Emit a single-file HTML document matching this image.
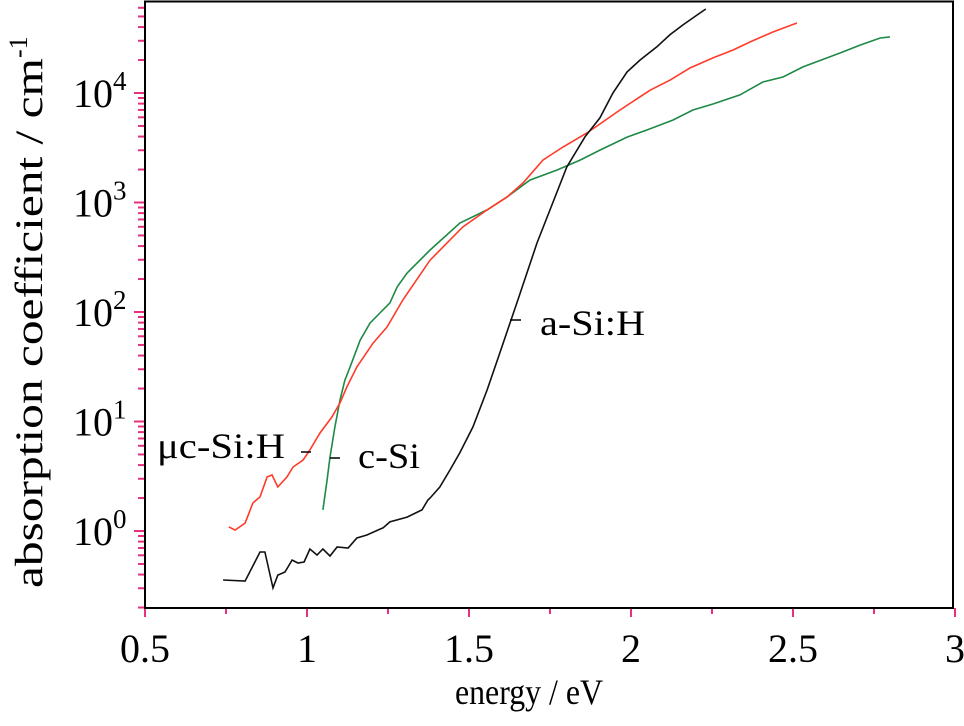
<!DOCTYPE html>
<html><head><meta charset="utf-8"><style>
html,body{margin:0;padding:0;background:#fff;}
svg{display:block;}
text{font-family:"Liberation Serif","Times New Roman","Noto Serif CJK SC",serif;}
</style></head><body>
<svg id="chart" width="964" height="726" viewBox="0 0 964 726" xmlns="http://www.w3.org/2000/svg">
<g id="ticks"></g>
<g id="series"></g>
<rect x="145" y="1.5" width="808" height="606.5" fill="none" stroke="#000" stroke-width="2"/>
<g id="labels" font-size="40" fill="#000"></g>
<text x="455" y="704" font-size="36" textLength="148" lengthAdjust="spacingAndGlyphs">energy / eV</text>
<text transform="translate(42,588) rotate(-90)" font-size="39"><tspan textLength="530" lengthAdjust="spacingAndGlyphs">absorption coefficient / cm</tspan><tspan dy="-15" font-size="26">-1</tspan></text>
<text x="540" y="335" font-size="36" textLength="105" lengthAdjust="spacingAndGlyphs">a-Si:H</text>
<line x1="510" y1="320" x2="521" y2="320" stroke="#000" stroke-width="1.5"/>
<text x="157" y="458" font-size="36" textLength="128" lengthAdjust="spacingAndGlyphs">μc-Si:H</text>
<line x1="301" y1="452" x2="311" y2="452" stroke="#000" stroke-width="1.5"/>
<text x="358" y="468" font-size="36" textLength="62" lengthAdjust="spacingAndGlyphs">c-Si</text>
<line x1="330" y1="458" x2="340" y2="458" stroke="#000" stroke-width="1.5"/>
</svg>
<script>
const xTicks = [0.5, 1, 1.5, 2, 2.5, 3];
const xTickLabels = ["0.5", "1", "1.5", "2", "2.5", "3"];
const yDecades = [0, 1, 2, 3, 4];
const aSiE = [0.741,0.809,0.855,0.870,0.895,0.910,0.932,0.954,0.972,0.991,1.009,1.031,1.049,1.071,1.093,1.127,1.154,1.185,1.235,1.256,1.309,1.355,1.373,1.380,1.410,1.441,1.472,1.512,1.556,1.596,1.651,1.710,1.756,1.802,1.858,1.904,1.944,1.988,2.028,2.080,2.120,2.160,2.204,2.231];
const aSiA = [0.357,0.349,0.643,0.643,0.302,0.396,0.422,0.543,0.510,0.521,0.685,0.604,0.685,0.591,0.714,0.699,0.863,0.919,1.07,1.21,1.34,1.56,1.92,2.0,2.52,3.6,5.2,8.9,19.4,43,129,427,948,2110,3980,5920,10000,15600,20000,26400,34000,41800,51600,58500];
const ucSiE = [0.759,0.778,0.809,0.833,0.855,0.877,0.892,0.910,0.938,0.957,0.988,1.009,1.040,1.077,1.102,1.123,1.154,1.204,1.247,1.296,1.380,1.481,1.556,1.617,1.667,1.728,1.790,1.864,1.966,2.059,2.120,2.182,2.253,2.315,2.367,2.438,2.512];
const ucSiA = [1.09,1.02,1.18,1.80,2.05,3.11,3.25,2.52,3.11,3.84,4.45,5.5,7.85,11.0,14.8,20.7,31.5,52,73,129,298,597,855,1120,1510,2440,3210,4310,7000,10600,13100,16900,20900,24700,29200,36100,43600];
const cSiE = [1.049,1.062,1.071,1.086,1.102,1.117,1.133,1.164,1.194,1.225,1.256,1.278,1.309,1.380,1.472,1.556,1.617,1.688,1.772,1.843,1.904,1.988,2.049,2.130,2.191,2.253,2.336,2.407,2.469,2.531,2.645,2.707,2.769,2.799];
const cSiA = [1.56,2.92,4.74,8.9,15.7,23.9,31.5,55,79,98,121,169,227,368,650,855,1120,1600,1980,2440,3010,3960,4590,5670,7000,7940,9600,12600,14000,17300,23200,27400,31800,32500];

const NS = "http://www.w3.org/2000/svg";
function xs(e){ return 145 + (e - 0.5) * 324; }
function ys(a){ return 531 - Math.log10(a) * 109.5; }
const tg = document.getElementById('ticks');
const lg = document.getElementById('labels');
const sg = document.getElementById('series');
const pink = "#e8307f";
function line(g, x1, y1, x2, y2, c, w){
  const l = document.createElementNS(NS, 'line');
  l.setAttribute('x1', x1); l.setAttribute('y1', y1); l.setAttribute('x2', x2); l.setAttribute('y2', y2);
  l.setAttribute('stroke', c); l.setAttribute('stroke-width', w);
  g.appendChild(l); return l;
}
xTicks.forEach((v, i) => {
  const l = line(tg, xs(v), 608, xs(v), 617, pink, 2);
  
  
  if (i < xTicks.length - 1) {
    const m = line(tg, xs(v + 0.25), 608, xs(v + 0.25), 614, pink, 2);
    
    
  }
  const t = document.createElementNS(NS, 'text');
  t.setAttribute('x', xs(v)); t.setAttribute('y', 662); t.setAttribute('text-anchor', 'middle');
  t.textContent = xTickLabels[i];
  
  
  lg.appendChild(t);
});
const lo = Math.pow(10, (531 - 608) / 109.5), hi = Math.pow(10, (531 - 2) / 109.5);
for (let d = -1; d <= 4; d++) {
  for (let k = 1; k <= 9; k++) {
    const v = k * Math.pow(10, d);
    if (v < lo || v > hi) continue;
    const l = line(tg, k === 1 ? 134 : 138, ys(v), 145, ys(v), pink, 2);
    
    
  }
}
yDecades.forEach(d => {
  const t = document.createElementNS(NS, 'text');
  t.setAttribute('x', 73); t.setAttribute('y', ys(Math.pow(10, d)) + 14);
  t.innerHTML = '10<tspan dy="-17" font-size="27">' + d + '</tspan>';
  
  
  lg.appendChild(t);
});
function series(E, A, color, name){
  const p = document.createElementNS(NS, 'polyline');
  p.setAttribute('points', E.map((e, i) => xs(e).toFixed(1) + ',' + ys(A[i]).toFixed(1)).join(' '));
  p.setAttribute('fill', 'none'); p.setAttribute('stroke', color); p.setAttribute('stroke-width', 1.6);
  
  
  sg.appendChild(p);
}
series(cSiE, cSiA, '#1e8a46', 'series-c-si');
series(ucSiE, ucSiA, '#ff3b2a', 'series-uc-si-h');
series(aSiE, aSiA, '#111', 'series-a-si-h');
</script>
</body></html>
